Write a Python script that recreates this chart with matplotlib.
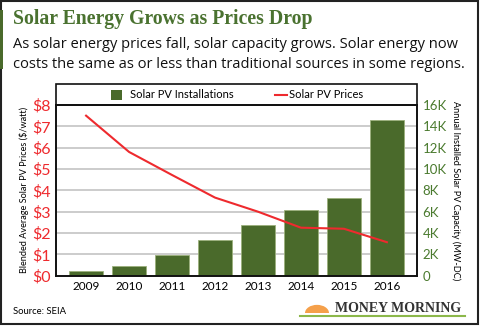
import matplotlib.pyplot as plt
from matplotlib.patches import Rectangle, Wedge
from matplotlib.lines import Line2D

years = ['2009', '2010', '2011', '2012', '2013', '2014', '2015', '2016']
installs_mw = [435, 887, 1919, 3369, 4751, 6201, 7286, 14626]
prices = [7.5, 5.8, 4.72, 3.66, 3.0, 2.25, 2.2, 1.57]
price_ticks = ['$0', '$1', '$2', '$3', '$4', '$5', '$6', '$7', '$8']
cap_ticks = ['0', '2K', '4K', '6K', '8K', '10K', '12K', '14K', '16K']

green = '#4a6a2b'
red = '#ee2a2e'
W, H = 480, 326

fig = plt.figure(figsize=(4.8, 3.26), dpi=100)
fig.patch.set_facecolor('white')

# outer frame and green accent bar
fig.add_artist(Rectangle((0.5 / W, 2 / H), 477 / W, 323 / H, transform=fig.transFigure,
                         fill=False, edgecolor='#222222', lw=1.5))
fig.add_artist(Rectangle((0, 1 - 69 / H), 3 / W, 59 / H, transform=fig.transFigure,
                         facecolor='#4a6a2b', edgecolor='none'))

fig.text(13 / W, 1 - 19 / H, 'Solar Energy Grows as Prices Drop', family='Liberation Serif',
         weight='bold', fontsize=14.2, color='#4a7230', va='center')
fig.text(13 / W, 1 - 45 / H, 'As solar energy prices fall, solar capacity grows. Solar energy now',
         family='Open Sans', fontsize=10.55, color='#111111', va='center')
fig.text(13 / W, 1 - 64 / H, 'costs the same as or less than traditional sources in some regions.',
         family='Open Sans', fontsize=10.55, color='#111111', va='center')

# legend band above the plot
fig.add_artist(Rectangle((56 / W, 1 - 105 / H), 361 / W, 21 / H, transform=fig.transFigure,
                         fill=False, edgecolor='#111111', lw=1.2))
fig.add_artist(Rectangle((111 / W, 1 - 100 / H), 11 / W, 10 / H, transform=fig.transFigure,
                         facecolor=green, edgecolor='none'))
fig.text(130 / W, 1 - 95 / H, 'Solar PV Installations', family='Lato', fontsize=8, va='center')
fig.add_artist(Line2D([275 / W, 287 / W], [1 - 95 / H, 1 - 95 / H], transform=fig.transFigure,
                      color=red, lw=1.5))
fig.text(289 / W, 1 - 95 / H, 'Solar PV Prices', family='Lato', fontsize=8, va='center')

ax = fig.add_axes([56 / W, 1 - 275.7 / H, 361 / W, 170.7 / H])
ax2 = ax.twinx()
x = list(range(len(years)))

ax2.bar(x, installs_mw, width=0.78, color=green, edgecolor='#9bb07c', lw=0.6)
ax2.set_ylim(0, 16000)
ax2.set_yticks(range(0, 16001, 2000))
ax2.set_yticklabels(cap_ticks, color='#4a7a2e', fontsize=9.5, family='Lato')
ax2.set_ylabel('Annual Installed Solar PV Capacity (MW-DC)', rotation=270, fontsize=6.6,
               family='Lato', labelpad=10)
for v in range(2000, 16000, 2000):
    ax2.axhline(v, color='#c8c8c8', lw=1.3, zorder=0)
ax2.set_axisbelow(True)

ax.plot(x, prices, color=red, lw=1.5)
ax.set_ylim(0, 8)
ax.set_xlim(-0.7, 7.7)
ax.set_yticks(range(0, 9))
ax.set_yticklabels(price_ticks, color=red, fontsize=11.5, family='Lato')
ax.set_xticks(x)
ax.set_xticklabels(years, fontsize=8.5, family='Lato')
ax.set_ylabel('Blended Average Solar PV Prices ($/watt)', fontsize=6.6, family='Lato', labelpad=2)
ax.set_zorder(ax2.get_zorder() + 1)
ax.patch.set_visible(False)

for a in (ax, ax2):
    a.tick_params(length=0, pad=4)
    for s in a.spines.values():
        s.set_color('#111111')
        s.set_linewidth(1.2)

fig.text(13 / W, 1 - 311 / H, 'Source: SEIA', family='Lato', fontsize=6.8, va='center')

# Money Morning logo
fig.add_artist(Wedge((317 / W, 1 - 313 / H), 0.025, 0, 180, transform=fig.transFigure,
                     facecolor='#f5a04a', edgecolor='none'))
fig.text(335 / W, 1 - 308 / H, 'MONEY MORNING', family='Liberation Serif', weight='bold',
         fontsize=10, color='#333333', va='center')
fig.add_artist(Line2D([300 / W, 465 / W], [1 - 316 / H, 1 - 316 / H], transform=fig.transFigure,
                      color='#8cb84a', lw=1.5))

fig.savefig('out.png', dpi=100)
